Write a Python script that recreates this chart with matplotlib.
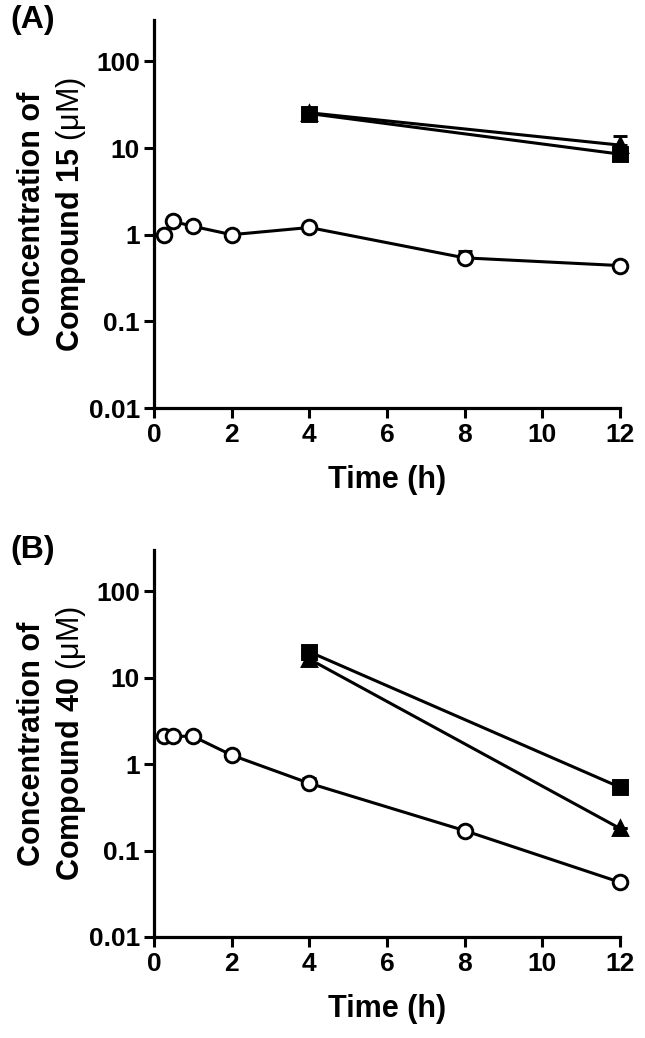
import matplotlib
matplotlib.use("Agg")
import matplotlib.pyplot as plt
import numpy as np

plt.rcParams['font.family'] = ['Liberation Sans', 'DejaVu Sans']
plt.rcParams['font.weight'] = 'bold'
plt.rcParams['mathtext.fontset'] = 'custom'
plt.rcParams['mathtext.rm'] = 'Liberation Sans:weight=normal'
plt.rcParams['mathtext.bf'] = 'Liberation Sans:weight=bold'
plt.rcParams['mathtext.it'] = 'Liberation Sans:italic'

# ---- Data: panel A (compound 15)
tA_circ = [0.25, 0.5, 1, 2, 4, 8, 12]
cA_circ = [1.0, 1.42, 1.25, 1.0, 1.21, 0.54, 0.44]
eA_circ = [0.08, 0.0, 0.0, 0.0, 0.0, 0.10, 0.0]
tA_sq = [4, 12]
cA_sq = [25.0, 8.5]
eA_sq = [1.5, 0.0]
tA_tri = [4, 12]
cA_tri = [25.5, 10.8]
eA_tri = [2.0, 2.9]

# ---- Data: panel B (compound 40)
tB_circ = [0.25, 0.5, 1, 2, 4, 8, 12]
cB_circ = [2.11, 2.1, 2.1, 1.27, 0.60, 0.17, 0.043]
eB_circ = [0.0, 0.0, 0.0, 0.0, 0.10, 0.0, 0.0]
tB_sq = [4, 12]
cB_sq = [19.9, 0.54]
eB_sq = [1.5, 0.0]
tB_tri = [4, 12]
cB_tri = [16.4, 0.18]
eB_tri = [0.0, 0.0]

yticks = [0.01, 0.1, 1, 10, 100]
ytick_labels = ['0.01', '0.1', '1', '10', '100']
xticks = [0, 2, 4, 6, 8, 10, 12]

fig = plt.figure(figsize=(6.45, 10.38), dpi=100)

panels = [
    dict(pos=[154/645, 1-408/1038, 466/645, 388/1038], label='(A)', cmpd='15',
         circ=(tA_circ, cA_circ, eA_circ), sq=(tA_sq, cA_sq, eA_sq), tri=(tA_tri, cA_tri, eA_tri)),
    dict(pos=[154/645, 1-937/1038, 466/645, 387/1038], label='(B)', cmpd='40',
         circ=(tB_circ, cB_circ, eB_circ), sq=(tB_sq, cB_sq, eB_sq), tri=(tB_tri, cB_tri, eB_tri)),
]

lw = 2.2
for p in panels:
    ax = fig.add_axes(p['pos'])
    ax.set_yscale('log')
    ax.set_ylim(0.01, 300)
    ax.set_xlim(0, 12)
    for key, mk, ms, fc in [('tri', '^', 10.5, 'black'), ('sq', 's', 9.5, 'black'), ('circ', 'o', 10.5, 'white')]:
        t, c, e = p[key]
        ax.errorbar(t, c, yerr=[np.zeros(len(e)), e], color='black', lw=lw,
                    marker=mk, ms=ms, mfc=fc, mec='black', mew=2.1,
                    capsize=5, capthick=lw, elinewidth=lw, clip_on=False, zorder=3)
    ax.set_yticks(yticks)
    ax.set_yticklabels(ytick_labels)
    ax.yaxis.set_minor_locator(matplotlib.ticker.NullLocator())
    ax.set_xticks(xticks)
    for s in ['top', 'right']:
        ax.spines[s].set_visible(False)
    for s in ['left', 'bottom']:
        ax.spines[s].set_linewidth(2.3)
    ax.tick_params(axis='both', which='major', direction='out', length=7, width=2.2,
                   labelsize=19, pad=3)
    ax.tick_params(axis='x', pad=4)
    for lab in ax.get_xticklabels() + ax.get_yticklabels():
        lab.set_fontweight('bold')
    ax.set_xlabel('Time (h)', fontsize=22, fontweight='bold', labelpad=13)
    ax.set_ylabel('Concentration of\nCompound $\\mathbf{' + p['cmpd'] + '}$ $\\mathrm{(μM)}$',
                  fontsize=22, fontweight='bold', labelpad=0.5, linespacing=1.3)
    lbl = ax.text(10/645, 1.0, p['label'], fontsize=23, fontweight='bold',
                  ha='left', va='center',
                  transform=matplotlib.transforms.blended_transform_factory(fig.transFigure, ax.transAxes))

fig.savefig('out.png', dpi=100)
